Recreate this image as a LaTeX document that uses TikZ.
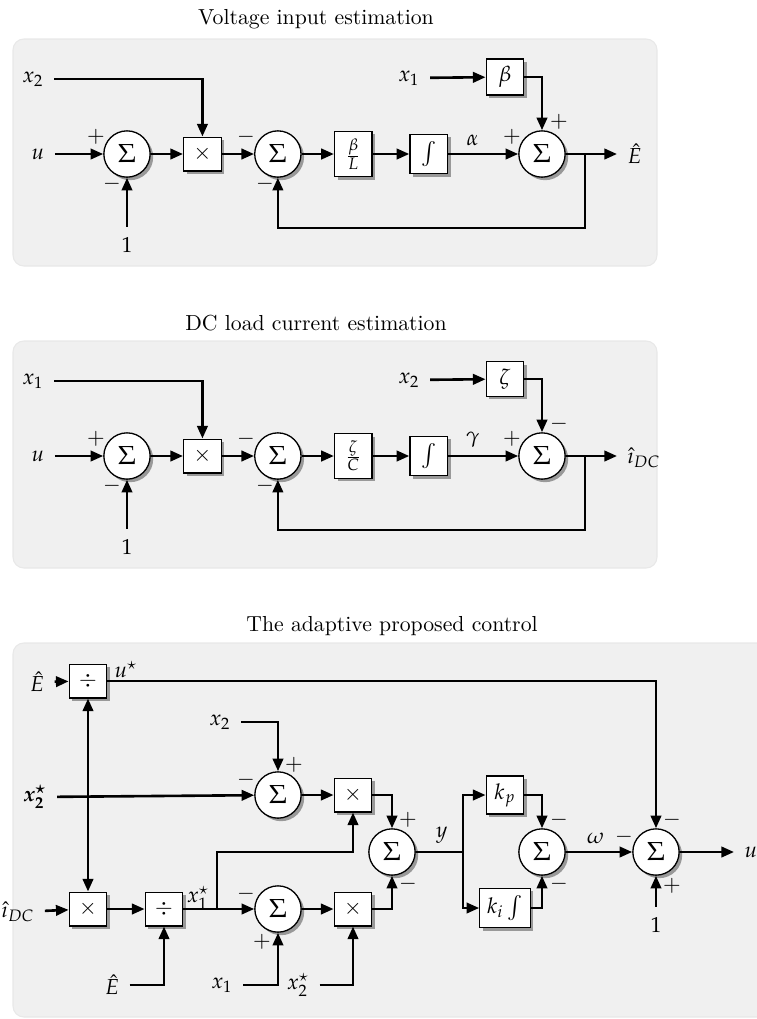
\documentclass[tikz,border=0pt]{standalone}
\usepackage{amsmath,amssymb}
\usepackage{mathpazo}
\usetikzlibrary{positioning,arrows.meta,shadows}
\tikzset{line/.style={draw, line width=1.2pt, -{Triangle[length=5.8pt,width=4.8pt]}}}
\tikzset{wire/.style={draw, line width=1.2pt}}

\begin{document}
\begin{tikzpicture}[x=0.46pt, y=-0.46pt, node distance=34.7pt,
  blk/.style={draw, fill=white, line width=0.6pt, minimum width=17.3pt, minimum height=15.5pt,
    drop shadow={shadow xshift=1.4pt, shadow yshift=-1.4pt, fill=black!40, opacity=1}},
  sum/.style={draw, circle, fill=white, line width=0.6pt, minimum size=21.3pt, inner sep=0pt, font=\large,
    drop shadow={shadow xshift=1.4pt, shadow yshift=-1.4pt, fill=black!40, opacity=1}},
  lbl/.style={outer sep=1.5pt},
  sgn/.style={inner sep=0pt},
  panel/.style={fill=black!6, draw=black!9, line width=0.5pt, rounded corners=5pt}]

\useasboundingbox (0,0) rectangle (757,1019);

% voltage estimator
\path[panel] (13,39) rectangle (657,266);
\node at (316,19) {Voltage input estimation};
\node[sum] (a1) at (127,154) {$\Sigma$};
\node[blk] (a2) [right of=a1] {$\times$};
\node[sum] (a3) [right of=a2] {$\Sigma$};
\node[blk] (a4) [right of=a3] {$\frac{\beta}{L}$};
\node[blk] (a5) [right of=a4] {$\int$};
\node[sum] (a6) at (542,154) {$\Sigma$};
\node[blk] (a7) at (505,77) {$\beta$};
\node[lbl] (ua) at (38,154) {$u$};
\node[lbl] (xa) at (33,79) {$x_2$};
\node[lbl] (oa) at (127,245) {$1$};
\node[lbl] (ya) at (409,78) {$x_1$};
\node[lbl, anchor=west] (ea) at (617,154) {$\hat{E}$};
\draw[line] (ua) -- (a1);
\draw[line] (oa) -- (a1);
\draw[line] (a1) -- (a2);
\draw[line] (xa) -| (a2);
\draw[line] (a2) -- (a3);
\draw[line] (a3) -- (a4);
\draw[line] (a4) -- (a5);
\draw[line] (a5) -- node[above, pos=0.35] {$\alpha$} (a6);
\draw[line] (ya) -- (a7);
\draw[line] (a7) -| (a6);
\draw[line] (a6) -- (ea);
\coordinate (pa) at (585,154);
\coordinate (qa) at (585,228);
\draw[line] (pa) -- (qa) -| (a3);
\path (a1) ++(-31,-17) node[sgn] {$+$};
\path (a1) ++(-15,30) node[sgn] {$-$};
\path (a3) ++(-32,-17) node[sgn] {$-$};
\path (a3) ++(-13,30) node[sgn] {$-$};
\path (a6) ++(-30,-17) node[sgn] {$+$};
\path (a6) ++(17,-32) node[sgn] {$+$};

% dc current estimator
\begin{scope}[shift={(0,302)}]
\path[panel] (13,39) rectangle (657,266);
\node at (316,21) {DC load current estimation};
\node[sum] (b1) at (127,154) {$\Sigma$};
\node[blk] (b2) [right of=b1] {$\times$};
\node[sum] (b3) [right of=b2] {$\Sigma$};
\node[blk] (b4) [right of=b3] {$\frac{\zeta}{C}$};
\node[blk] (b5) [right of=b4] {$\int$};
\node[sum] (b6) at (542,154) {$\Sigma$};
\node[blk] (b7) at (505,77) {$\zeta$};
\node[lbl] (ub) at (38,154) {$u$};
\node[lbl] (xb) at (33,79) {$x_1$};
\node[lbl] (ob) at (127,245) {$1$};
\node[lbl] (yb) at (409,78) {$x_2$};
\node[lbl, anchor=west] (eb) at (617,156) {$\hat{\imath}_{DC}$};
\draw[line] (ub) -- (b1);
\draw[line] (ob) -- (b1);
\draw[line] (b1) -- (b2);
\draw[line] (xb) -| (b2);
\draw[line] (b2) -- (b3);
\draw[line] (b3) -- (b4);
\draw[line] (b4) -- (b5);
\draw[line] (b5) -- node[above, pos=0.35] {$\gamma$} (b6);
\draw[line] (yb) -- (b7);
\draw[line] (b7) -| (b6);
\draw[line] (b6) -- (eb.west |- b6);
\coordinate (pb) at (585,154);
\coordinate (qb) at (585,228);
\draw[line] (pb) -- (qb) -| (b3);
\path (b1) ++(-31,-17) node[sgn] {$+$};
\path (b1) ++(-15,30) node[sgn] {$-$};
\path (b3) ++(-32,-17) node[sgn] {$-$};
\path (b3) ++(-13,30) node[sgn] {$-$};
\path (b6) ++(-30,-17) node[sgn] {$+$};
\path (b6) ++(17,-32) node[sgn] {$-$};
\end{scope}

% adaptive control
\path[panel] (13,643) rectangle (780,1017);
\node at (392,626) {The adaptive proposed control};
\node[blk] (c1) at (88,681) {$\div$};
\node[sum] (c2) at (278,795) {$\Sigma$};
\node[blk] (c3) at (353,795) {$\times$};
\node[sum] (c4) at (392,852) {$\Sigma$};
\node[blk] (c5) at (505,795) {$k_p$};
\node[blk] (c6) at (505,908) {$k_i\int$};
\node[sum] (c7) at (542,852) {$\Sigma$};
\node[sum] (c8) at (656,852) {$\Sigma$};
\node[blk] (c9) at (88,909) {$\times$};
\node[blk] (c10) at (164,909) {$\div$};
\node[sum] (c11) at (278,909) {$\Sigma$};
\node[blk] (c12) at (353,909) {$\times$};
\node[lbl] (ec) at (37,682) {$\hat{E}$};
\node[lbl] (xc) at (35,797) {$\boldsymbol{x_2^{\star}}$};
\node[lbl] (zc) at (220,722) {$x_2$};
\node[lbl] (ic) at (18,912) {$\hat{\imath}_{DC}$};
\node[lbl] (fc) at (112,985) {$\hat{E}$};
\node[lbl] (yc) at (222,985) {$x_1$};
\node[lbl] (wc) at (298,985) {$x_2^{\star}$};
\node[lbl] (oc) at (656,925) {$1$};
\node[lbl, anchor=west] (uc) at (734,852) {$u$};
\node at (126,670) {$u^{\star}$};
\node at (198,898) {$x_1^{\star}$};
\draw[line] (ec) -- (c1);
\draw[line] (c1) -| (c8);
\draw[line] (zc) -| (c2);
\draw[line] (xc) -- (c2);
\coordinate (pc) at (88,795);
\draw[line] (pc) -- (c1);
\draw[line] (pc) -- (c9);
\draw[line] (c2) -- (c3);
\draw[line] (c3) -| (c4);
\draw[line] (ic) -- (c9);
\draw[line] (c9) -- (c10);
\draw[line] (fc) -| (c10);
\draw[line] (c10) -- (c11);
\coordinate (qc) at (217,909);
\coordinate (rc) at (217,852);
\draw[line] (qc) -- (rc) -| (c3);
\draw[line] (yc) -| (c11);
\draw[line] (c11) -- (c12);
\draw[line] (wc) -| (c12);
\draw[line] (c12) -| (c4);
\coordinate (sc) at (463,852);
\draw[wire] (c4) -- node[above, pos=0.55] {$y$} (sc);
\draw[line] (sc) |- (c5);
\draw[line] (sc) |- (c6);
\draw[line] (c5) -| (c7);
\draw[line] (c6) -| (c7);
\draw[line] (c7) -- node[above, pos=0.45] {$\omega$} (c8);
\draw[line] (oc) -- (c8);
\draw[line] (c8) -- (uc);
\path (c2) ++(16,-30) node[sgn] {$+$};
\path (c2) ++(-32,-15) node[sgn] {$-$};
\path (c4) ++(16,-32) node[sgn] {$+$};
\path (c4) ++(16,32) node[sgn] {$-$};
\path (c11) ++(-32,-15) node[sgn] {$-$};
\path (c11) ++(-16,33) node[sgn] {$+$};
\path (c7) ++(17,-32) node[sgn] {$-$};
\path (c7) ++(17,32) node[sgn] {$-$};
\path (c8) ++(-32,-15) node[sgn] {$-$};
\path (c8) ++(16,-32) node[sgn] {$-$};
\path (c8) ++(16,34) node[sgn] {$+$};
\end{tikzpicture}
\end{document}
